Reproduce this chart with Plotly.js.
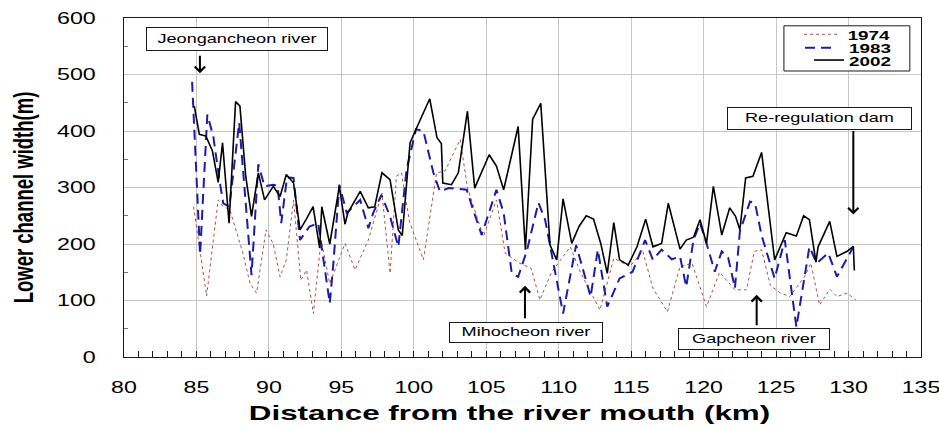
<!DOCTYPE html>
<html>
<head>
<meta charset="utf-8">
<script src="https://cdn.plot.ly/plotly-3.0.1.min.js"></script>
<style>
  html, body { margin: 0; padding: 0; background: #fff; }
  #chart { width: 939px; height: 428px; }
</style>
</head>
<body>
<div id="chart"></div>
<script>
// Lower channel width along the river, three survey years
const km1974 = [84.8,85.7,86.5,86.85,87.3,88.2,88.7,89.15,89.8,90.3,90.77,91.2,91.7,92.2,92.6,93.07,93.6,94.2,95.25,95.94,96.86,97.8,98.36,98.8,99.15,99.7,100.66,101.57,102.15,103.2,103.7,104.8,105.7,106.3,107.3,108.1,108.7,109.5,110.8,111.5,112.85,113.8,114.9,115.8,116.5,117.5,118.37,119.2,120.2,121.1,122.16,122.96,123.5,124.0,124.6,125.3,125.95,126.96,127.4,128.0,128.7,129.2,129.9,130.5];
const width1974 = [266,108,278,266,261,184,130,113,225,200,142,172,278,136,154,77,207,130,201,154,207,290,148,320,326,240,172,326,329,385,300,213,278,184,166,157,101,150,195,150,83,175,160,187,122,80,160,166,89,150,119,119,187,190,127,113,107,142,166,92,120,107,113,101];

const km1983 = [84.7,85.25,85.75,86.16,86.58,86.85,87.27,87.95,88.8,89.27,89.7,90.3,90.6,90.85,91.25,91.7,92.15,92.8,93.4,94.0,94.2,94.45,94.86,95.37,96.3,96.86,97.2,97.76,98.36,98.93,99.5,100.15,100.66,101.35,101.8,102.4,103.65,104.1,104.68,105.7,106.2,106.76,107.2,107.8,108.6,109.06,109.6,110.3,111.2,112.2,112.7,113.35,114.2,115.1,115.96,116.5,117.1,117.8,118.37,118.8,119.3,119.75,120.2,120.77,121.25,121.7,122.16,122.5,123.2,123.55,124.0,124.9,125.6,126.4,127.3,127.8,128.6,129.2,130.33];
const width1983 = [487,181,429,391,314,272,266,415,145,341,302,305,303,237,318,317,207,231,237,136,95,166,305,255,278,228,255,287,249,195,332,403,400,326,293,299,296,260,216,296,255,148,142,188,273,243,172,77,198,107,190,89,139,151,207,172,190,173,178,124,207,237,201,151,187,175,122,222,275,272,215,139,207,53,195,166,184,142,195];

const km2002 = [84.85,85.2,85.65,86.1,86.5,86.8,87.25,87.7,88.0,88.4,88.8,89.27,89.7,90.3,90.77,91.2,91.7,92.15,92.6,93.05,93.5,93.65,94.2,94.86,95.25,95.45,96.3,96.86,97.3,97.8,98.36,98.93,99.2,99.74,100.15,101.1,101.6,101.9,102.0,102.6,103.07,103.7,104.2,105.2,105.7,106.2,107.2,107.7,108.2,108.76,109.4,109.86,110.3,110.9,111.4,111.9,112.4,112.9,113.35,113.8,114.2,114.8,115.4,116.0,116.5,117.1,117.56,118.37,118.8,119.3,119.75,120.2,120.67,121.25,121.8,122.2,122.5,122.9,123.4,124.0,124.9,125.7,126.4,126.9,127.3,127.75,127.9,128.7,129.2,129.9,130.33,130.4];
const width2002 = [444,394,391,365,309,379,237,452,444,320,249,326,278,302,284,323,308,225,245,266,193,266,200,302,235,255,293,264,266,326,314,225,215,379,403,457,388,378,308,305,326,435,299,358,338,296,408,190,421,449,198,172,280,201,231,250,244,201,148,238,172,163,195,244,195,201,272,191,207,212,243,201,302,216,264,249,225,317,320,362,172,220,214,250,243,168,195,240,178,187,196,153];

const seriesNames = ['1974', '1983', '2002'];

// Labelled places along the river: [label, km, width the arrow points at]
const landmarkNames = ['Jeongancheon river', 'Mihocheon river', 'Gapcheon river', 'Re-regulation dam'];
const landmarkKm = [85.24, 107.67, 123.66, 130.33];
const landmarkWidth = [502, 126, 110, 252];

const FONT = '"Liberation Sans", Arial, Helvetica, sans-serif';
const INK = '#1a1a1a';

const styles = [
  { color: '#b24c4c', width: 1, dash: 'dot' },
  { color: '#1c1ca6', width: 2, dash: '10px,6px' },
  { color: '#000000', width: 1.6, dash: 'solid' }
];

const xs = [km1974, km1983, km2002];
const ys = [width1974, width1983, width2002];

const traces = seriesNames.map((name, i) => ({
  type: 'scatter',
  mode: 'lines',
  name: name,
  x: xs[i],
  y: ys[i],
  line: styles[i],
  showlegend: false,
  hoverinfo: 'skip'
}));

// Legend drawn as a framed key in the upper right
const keyRows = [0.952, 0.9124, 0.876];
const keySpans = [[0.8532, 0.8959], [0.8545, 0.8946], [0.8657, 0.9034]];
const shapes = [{
  type: 'rect', xref: 'paper', yref: 'paper',
  x0: 0.828, x1: 0.986, y0: 0.8437, y1: 0.977,
  line: { color: INK, width: 1 }, fillcolor: '#ffffff', layer: 'above'
}];
seriesNames.forEach((n, i) => {
  shapes.push({
    type: 'line', xref: 'paper', yref: 'paper',
    x0: keySpans[i][0], x1: keySpans[i][1], y0: keyRows[i], y1: keyRows[i],
    line: { color: styles[i].color, width: styles[i].width, dash: styles[i].dash },
    layer: 'above'
  });
});

const annotations = [];
seriesNames.forEach((n, i) => {
  annotations.push({
    xref: 'paper', yref: 'paper', x: 0.9636, y: keyRows[i] - 0.003,
    xanchor: 'right', yanchor: 'middle', text: n, showarrow: false,
    borderpad: 0, font: { family: FONT, size: 13, weight: 'bold', color: '#000' }
  });
});

// Label boxes (left, top in data units; outer size in px)
const boxLeft = [81.52, 102.45, 118.25, 121.64];
const boxTop = [584, 62.2, 51.5, 443];
const boxW = [182, 154, 152, 185];
const boxH = [24, 21, 22, 23];
const arrowTail = [-19, 34, 32, -85];

landmarkNames.forEach((name, i) => {
  annotations.push({
    xref: 'x', yref: 'y', x: boxLeft[i], y: boxTop[i],
    xanchor: 'left', yanchor: 'top', text: name, showarrow: false,
    bordercolor: INK, borderwidth: 1, borderpad: 0, bgcolor: '#ffffff',
    width: boxW[i] - 2, height: boxH[i] - 2, align: 'center', valign: 'middle',
    font: { family: FONT, size: 12.5, color: '#000' }
  });
});
landmarkNames.forEach((name, i) => {
  annotations.push({
    xref: 'x', yref: 'y', x: landmarkKm[i], y: landmarkWidth[i],
    ax: 0, ay: arrowTail[i], text: '', showarrow: true,
    arrowhead: 4, arrowsize: 1, arrowwidth: 2, arrowcolor: '#000', standoff: 0
  });
});

const layout = {
  width: 939, height: 428,
  margin: { l: 124, r: 18, t: 18, b: 71, pad: 0 },
  paper_bgcolor: '#ffffff', plot_bgcolor: '#ffffff',
  font: { family: FONT, color: '#000' },
  showlegend: false,
  xaxis: {
    range: [80, 135], tick0: 80, dtick: 5,
    showgrid: true, gridcolor: '#c6c6c6', gridwidth: 1,
    zeroline: false, showline: true, linecolor: INK, linewidth: 1, mirror: true,
    ticks: 'inside', ticklen: 6, tickcolor: INK, tickwidth: 1,
    minor: { dtick: 1, ticks: 'inside', ticklen: 6, tickcolor: INK, tickwidth: 1, showgrid: false },
    tickfont: { family: FONT, size: 16, color: '#000' },
    ticklabelstandoff: 16,
    title: { text: 'Distance from the river mouth (km)', font: { family: FONT, size: 20, weight: 'bold', color: '#000' }, standoff: 10 },
    automargin: false
  },
  yaxis: {
    range: [0, 600], tick0: 0, dtick: 100,
    showgrid: true, gridcolor: '#c6c6c6', gridwidth: 1,
    zeroline: false, showline: true, linecolor: INK, linewidth: 1, mirror: true,
    ticks: '',
    minor: { dtick: 50, ticks: 'inside', ticklen: 4, tickcolor: '#777', tickwidth: 1, showgrid: false },
    tickfont: { family: FONT, size: 16, color: '#000' },
    ticklabelstandoff: 24,
    title: { text: 'Lower channel width(m)', font: { family: FONT, size: 18.5, weight: 'bold', color: '#000' }, standoff: 33 },
    automargin: false
  },
  shapes: shapes,
  annotations: annotations
};

// Widen text horizontally about a chosen anchor, keeping its height;
// dx, dy nudge the result in screen pixels
function widen(nodes, s, anchor, dx, dy) {
  nodes.forEach(el => {
    const r = el.getBoundingClientRect();
    if (!r.width) return;
    const m = el.parentNode.getScreenCTM();
    const sx = anchor === 'start' ? r.left : anchor === 'end' ? r.right : (r.left + r.right) / 2;
    const px = (sx - m.e) / m.a;
    const prev = el.getAttribute('transform') || '';
    el.setAttribute('transform',
      `translate(${(dx || 0) + px} ${dy || 0}) scale(${s} 1) translate(${-px} 0) ${prev}`);
  });
}

const gd = document.getElementById('chart');
Plotly.newPlot(gd, traces, layout, { staticPlot: true, displayModeBar: false }).then(() => {
  const S = 1.45;
  widen(gd.querySelectorAll('.xtick text'), S, 'middle');
  widen(gd.querySelectorAll('.ytick text'), S, 'end');
  widen(gd.querySelectorAll('.g-xtitle text'), 1.57, 'middle', -13, 0);
  widen(gd.querySelectorAll('.g-ytitle text'), S, 'middle', 0, 10);
  const ann = gd.querySelectorAll('.annotation');
  ann.forEach(g => {
    const idx = +g.getAttribute('data-index');
    const t = g.querySelectorAll('text.annotation-text');
    if (idx < 3) widen(t, S, 'end');
    else widen(t, S, 'middle');
  });
});
</script>
</body>
</html>
